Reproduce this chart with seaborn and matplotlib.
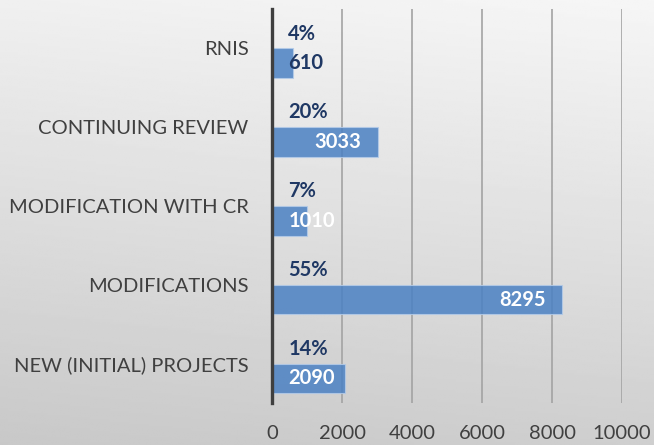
import numpy as np
import pandas as pd
import matplotlib
matplotlib.use("Agg")
import matplotlib.pyplot as plt
import seaborn as sns

categories = ["RNIS", "CONTINUING REVIEW", "MODIFICATION WITH CR",
              "MODIFICATIONS", "NEW (INITIAL) PROJECTS"]
counts = [610, 3033, 1010, 8295, 2090]
percents = [0.04, 0.20, 0.07, 0.55, 0.14]
pct_labels = ["4%", "20%", "7%", "55%", "14%"]
x_ticks = [0, 2000, 4000, 6000, 8000, 10000]

df = pd.DataFrame({
    "category": categories * 2,
    "value": percents + counts,
    "series": ["Percent"] * len(categories) + ["Count"] * len(categories),
})

sns.set_theme(style="white")
plt.rcParams["font.family"] = ["Lato", "DejaVu Sans"]

fig = plt.figure(figsize=(6.54, 4.45), dpi=100)

# gradient background
bg = fig.add_axes([0, 0, 1, 1], zorder=0)
yy, xx = np.mgrid[0:1:200j, 0:1:200j]
grad = 0.785 + 0.155 * (1 - yy) + 0.025 * xx
bg.imshow(grad, cmap="gray", vmin=0, vmax=1, aspect="auto", extent=[0, 1, 0, 1], origin="upper")
bg.set_axis_off()

ax = fig.add_axes([272 / 654, 1 - 403 / 445, (622 - 272) / 654, (403 - 9) / 445], zorder=1)
ax.patch.set_alpha(0)

bar_color = "#4b81c3"
sns.barplot(data=df, y="category", x="value", hue="series",
            hue_order=["Percent", "Count"], order=categories,
            palette={"Percent": (0, 0, 0, 0), "Count": bar_color},
            saturation=1, alpha=0.85,
            width=0.75, orient="h", ax=ax, legend=False, errorbar=None,
            edgecolor="#b4cbe8", linewidth=0.8, zorder=3)

ax.set_xlim(0, 10000)
ax.set_xticks(x_ticks)
ax.set_xticklabels([str(t) for t in x_ticks])
ax.set_xlabel("")
ax.set_ylabel("")
ax.grid(axis="x", color="#a3a3a3", linewidth=1.2, zorder=0)
ax.set_axisbelow(True)
for s in ["top", "right", "bottom"]:
    ax.spines[s].set_visible(False)
ax.spines["left"].set_color("#3f3f3f")
ax.spines["left"].set_linewidth(2.4)
ax.spines["left"].set_zorder(5)
ax.tick_params(axis="both", length=0, labelsize=14.5, colors="#404040")
ax.tick_params(axis="y", pad=17)
ax.tick_params(axis="x", pad=16)

navy = "#1f3864"
offset = 0.1875
pad = 470
for i, (c, p) in enumerate(zip(counts, pct_labels)):
    ax.text(pad, i - offset, p, ha="left", va="center", fontsize=14.5,
            fontweight="bold", color=navy, zorder=6)
    label = str(c)
    width_units = 1340 * len(label) / 4
    right = c - 480
    col = "white" if c >= 1000 else navy
    if right - width_units < pad:
        ax.text(pad, i + offset, label, ha="left", va="center", fontsize=14.5,
                fontweight="bold", color=col, zorder=6)
    else:
        ax.text(right, i + offset, label, ha="right", va="center", fontsize=14.5,
                fontweight="bold", color=col, zorder=6)

fig.savefig("out.png", dpi=100)
